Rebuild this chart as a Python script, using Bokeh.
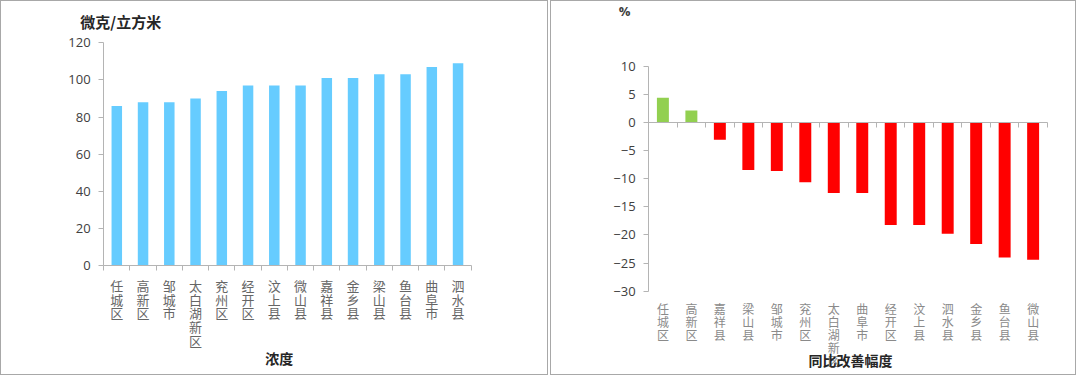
from bokeh.plotting import figure
from bokeh.models import Range1d, FixedTicker, LinearAxis
from bokeh.core.properties import value
from bokeh.layouts import row
from bokeh.embed import file_html
from bokeh.resources import INLINE

# ---------------- data ----------------
conc_districts = ["任城区", "高新区", "邹城市", "太白湖新区", "兖州区", "经开区", "汶上县",
                  "微山县", "嘉祥县", "金乡县", "梁山县", "鱼台县", "曲阜市", "泗水县"]
conc_values = [86, 88, 88, 90, 94, 97, 97, 97, 101, 101, 103, 103, 107, 109]
conc_ticks = [0, 20, 40, 60, 80, 100, 120]
conc_unit = "微克/立方米"
conc_title = "浓度"

chg_districts = ["任城区", "高新区", "嘉祥县", "梁山县", "邹城市", "兖州区", "太白湖新区",
                 "曲阜市", "经开区", "汶上县", "泗水县", "金乡县", "鱼台县", "微山县"]
chg_values = [4.5, 2.2, -3.0, -8.4, -8.6, -10.6, -12.5, -12.5, -18.2, -18.2,
              -19.8, -21.6, -24.0, -24.4]
chg_ticks = [-30, -25, -20, -15, -10, -5, 0, 5, 10]
chg_unit = "%"
chg_title = "同比改善幅度"

NUM_FONT = "Open Sans"
CJK_FONT = "Noto Sans CJK SC"
AXIS_GREY = "#b4b4b4"
BORDER = "1px solid #a8a8a8"
FIG_H = 375
DX, DY = 1, 2   # correction of the frame's placement inside the bordered figure


def stacked(names):
    return ["\n".join(list(n)) for n in names]


def pixel_range(p0, p1, v0, v1, f0, f1):
    """Range whose values v0, v1 land at pixels p0, p1 of a frame spanning f0..f1."""
    k = (v1 - v0) / (p1 - p0)
    return Range1d(v0 + (f0 - p0) * k, v0 + (f1 - p0) * k)


def make_fig(width, height, x_range, y_range):
    p = figure(width=width, height=height, x_range=x_range, y_range=y_range, title=None,
               x_axis_location=None, y_axis_location=None,
               output_backend="svg", toolbar_location=None,
               min_border_left=60, min_border_right=0, min_border_top=0, min_border_bottom=0)
    p.styles = {"border": BORDER}
    p.outline_line_color = None
    p.grid.visible = False
    return p


def add_y_axis(p, ticks):
    ax = LinearAxis(fixed_location=0, bounds=(ticks[0], ticks[-1]), ticker=FixedTicker(ticks=ticks),
                    axis_line_color=AXIS_GREY, major_tick_line_color=AXIS_GREY,
                    major_tick_out=5, major_tick_in=0, minor_tick_line_color=None,
                    major_label_standoff=8, major_label_text_font=NUM_FONT,
                    major_label_text_font_size="13px", major_label_text_color="#404040")
    p.add_layout(ax, "left")


def add_cat_axis(p, n):
    # category axis line at value 0, tick marks between categories pointing down
    ax = LinearAxis(fixed_location=0, bounds=(0, n),
                    ticker=FixedTicker(ticks=[], minor_ticks=list(range(n + 1))),
                    axis_line_color=AXIS_GREY, major_tick_line_color=None,
                    major_tick_in=0, major_tick_out=0,
                    minor_tick_line_color=AXIS_GREY, minor_tick_in=5, minor_tick_out=0,
                    major_label_standoff=0)
    p.add_layout(ax, "above")


# ---------------- left chart: concentration ----------------
n1 = len(conc_districts)
x1 = [i + 0.5 for i in range(n1)]
p1 = make_fig(548, FIG_H,
              pixel_range(104, 470, 0, n1, 61 + DX, 547 + DX),
              pixel_range(266, 44, conc_ticks[0], conc_ticks[-1], FIG_H - 1 + DY, 1 + DY))
p1.vbar(x=x1, top=conc_values, width=0.4, bottom=0, fill_color="#66CCFF", line_color=None)
add_y_axis(p1, conc_ticks)
add_cat_axis(p1, n1)
p1.text(x=x1, y=[0] * n1, text=stacked(conc_districts), y_offset=10,
        text_align="center", text_baseline="top", text_font=value(CJK_FONT),
        text_font_size="13px", text_line_height=0.72, text_color="#666666")
p1.text(x=[0.65], y=[131.35], text=[conc_unit], text_align="center", text_baseline="middle",
        text_font=value(CJK_FONT), text_font_size="15px", text_font_style="bold",
        text_color="#262626")
p1.text(x=[6.69], y=[-49.73], text=[conc_title], text_align="center", text_baseline="middle",
        text_font=value(CJK_FONT), text_font_size="14px", text_font_style="bold",
        text_color="#262626")

# ---------------- right chart: year-on-year change ----------------
n2 = len(chg_districts)
x2 = [i + 0.5 for i in range(n2)]
colors2 = ["#92D050" if v >= 0 else "#FF0000" for v in chg_values]
p2 = make_fig(526, FIG_H,
              pixel_range(649, 1046, 0, n2, 611 + DX, 1075 + DX),
              pixel_range(291, 68, chg_ticks[0], chg_ticks[-1], FIG_H - 1 + DY, 1 + DY))
p2.vbar(x=x2, top=chg_values, width=0.42, bottom=0, fill_color=colors2, line_color=None)
add_y_axis(p2, chg_ticks)
add_cat_axis(p2, n2)
p2.text(x=x2, y=[chg_ticks[0]] * n2, text=stacked(chg_districts), y_offset=9,
        text_align="center", text_baseline="top", text_font=value(CJK_FONT),
        text_font_size="12px", text_line_height=0.76, text_color="#8a8a8a")
p2.text(x=[-0.846], y=[20.04], text=[chg_unit], text_align="center", text_baseline="middle",
        text_font=value(NUM_FONT), text_font_size="13px", text_font_style="bold",
        text_color="#404040")
p2.text(x=[7.09], y=[-42.38], text=[chg_title], text_align="center", text_baseline="middle",
        text_font=value(CJK_FONT), text_font_size="14px", text_font_style="bold",
        text_color="#262626")

layout = row(p1, p2, spacing=2)
open("out.html", "w").write(file_html(layout, INLINE))
